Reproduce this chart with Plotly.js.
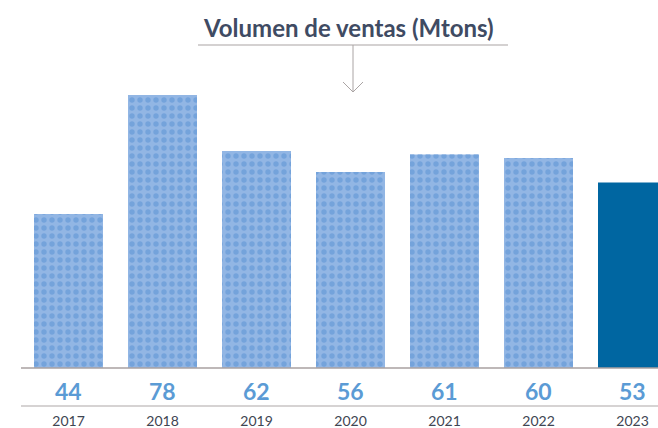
<!DOCTYPE html>
<html>
<head>
<meta charset="utf-8">
<script src="https://cdn.plot.ly/plotly-3.0.1.min.js"></script>
<style>html,body{margin:0;padding:0;background:#fff;}#chart{width:658px;height:428px;}</style>
</head>
<body>
<div id="chart"></div>
<script>
const years = ["2017", "2018", "2019", "2020", "2021", "2022", "2023"];
const volumes = [44, 78, 62, 56, 61, 60, 53];
const patterned = [true, true, true, true, true, true, false];
const chartTitle = "Volumen de ventas (Mtons)";

const W = 658, H = 428, B = 60, plotH = H - B;
const px = v => v / W;
const py = p => (plotH - p) / plotH;
const xs = years.map((_, i) => i);

const baseTrace = {
  type: "bar",
  x: xs,
  y: volumes,
  width: 0.734,
  marker: {
    color: patterned.map(p => p ? "#92b6e4" : "#0066a1"),
    line: {width: 0}
  },
  hoverinfo: "skip"
};

const dotTrace = {
  type: "bar",
  x: xs,
  y: volumes,
  width: 0.734,
  marker: {
    color: "rgba(0,0,0,0)",
    line: {width: 0},
    pattern: {
      shape: patterned.map(p => p ? "." : ""),
      fgcolor: "#74a3db",
      bgcolor: "rgba(0,0,0,0)",
      fgopacity: 1,
      fillmode: "replace",
      size: 8,
      solidity: 0.36
    }
  },
  hoverinfo: "skip"
};

const annotations = volumes.map((v, i) => ({
  x: i, y: 0, xref: "x", yref: "y",
  text: "<b>" + v + "</b>",
  showarrow: false, yanchor: "middle", yshift: -23,
  font: {family: "Lato, sans-serif", size: 23, color: "#5b9bd5", weight: 900}
}));
annotations.push({
  x: px(349), y: py(27), xref: "paper", yref: "paper",
  text: "<b>" + chartTitle + "</b>", showarrow: false,
  xanchor: "center", yanchor: "middle",
  font: {family: "Lato, sans-serif", size: 24, color: "#3f4b63", weight: 900}
});

const lineGray = "#aaa4a4";
const shapes = [
  {type: "line", xref: "paper", yref: "paper", x0: px(21), x1: 1, y0: py(368), y1: py(368), line: {color: "#a8a0a0", width: 1.5}},
  {type: "line", xref: "paper", yref: "paper", x0: px(21), x1: 1, y0: py(406), y1: py(406), line: {color: "#c8c4c4", width: 1.5}},
  {type: "line", xref: "paper", yref: "paper", x0: px(198), x1: px(508), y0: py(45), y1: py(45), line: {color: lineGray, width: 1.2}},
  {type: "line", xref: "paper", yref: "paper", x0: px(353), x1: px(353), y0: py(45), y1: py(92), line: {color: lineGray, width: 1}},
  {type: "line", xref: "paper", yref: "paper", x0: px(343), x1: px(353), y0: py(82), y1: py(92), line: {color: lineGray, width: 1}},
  {type: "line", xref: "paper", yref: "paper", x0: px(363), x1: px(353), y0: py(82), y1: py(92), line: {color: lineGray, width: 1}}
];

const layout = {
  width: W, height: H,
  margin: {l: 0, r: 0, t: 0, b: B},
  paper_bgcolor: "#ffffff", plot_bgcolor: "#ffffff",
  showlegend: false,
  barmode: "overlay",
  xaxis: {
    range: [-68.5 / 94, (W - 68.5) / 94],
    tickvals: xs,
    ticktext: years,
    showgrid: false, zeroline: false, showline: false,
    ticks: "", ticklabelstandoff: 43,
    tickfont: {family: "Lato, sans-serif", size: 14, color: "#404552"},
    fixedrange: true
  },
  yaxis: {
    range: [0, plotH / 3.5],
    visible: false, showgrid: false, zeroline: false, fixedrange: true
  },
  annotations: annotations,
  shapes: shapes
};

Plotly.newPlot("chart", [baseTrace, dotTrace], layout, {displayModeBar: false, staticPlot: true});
</script>
</body>
</html>
